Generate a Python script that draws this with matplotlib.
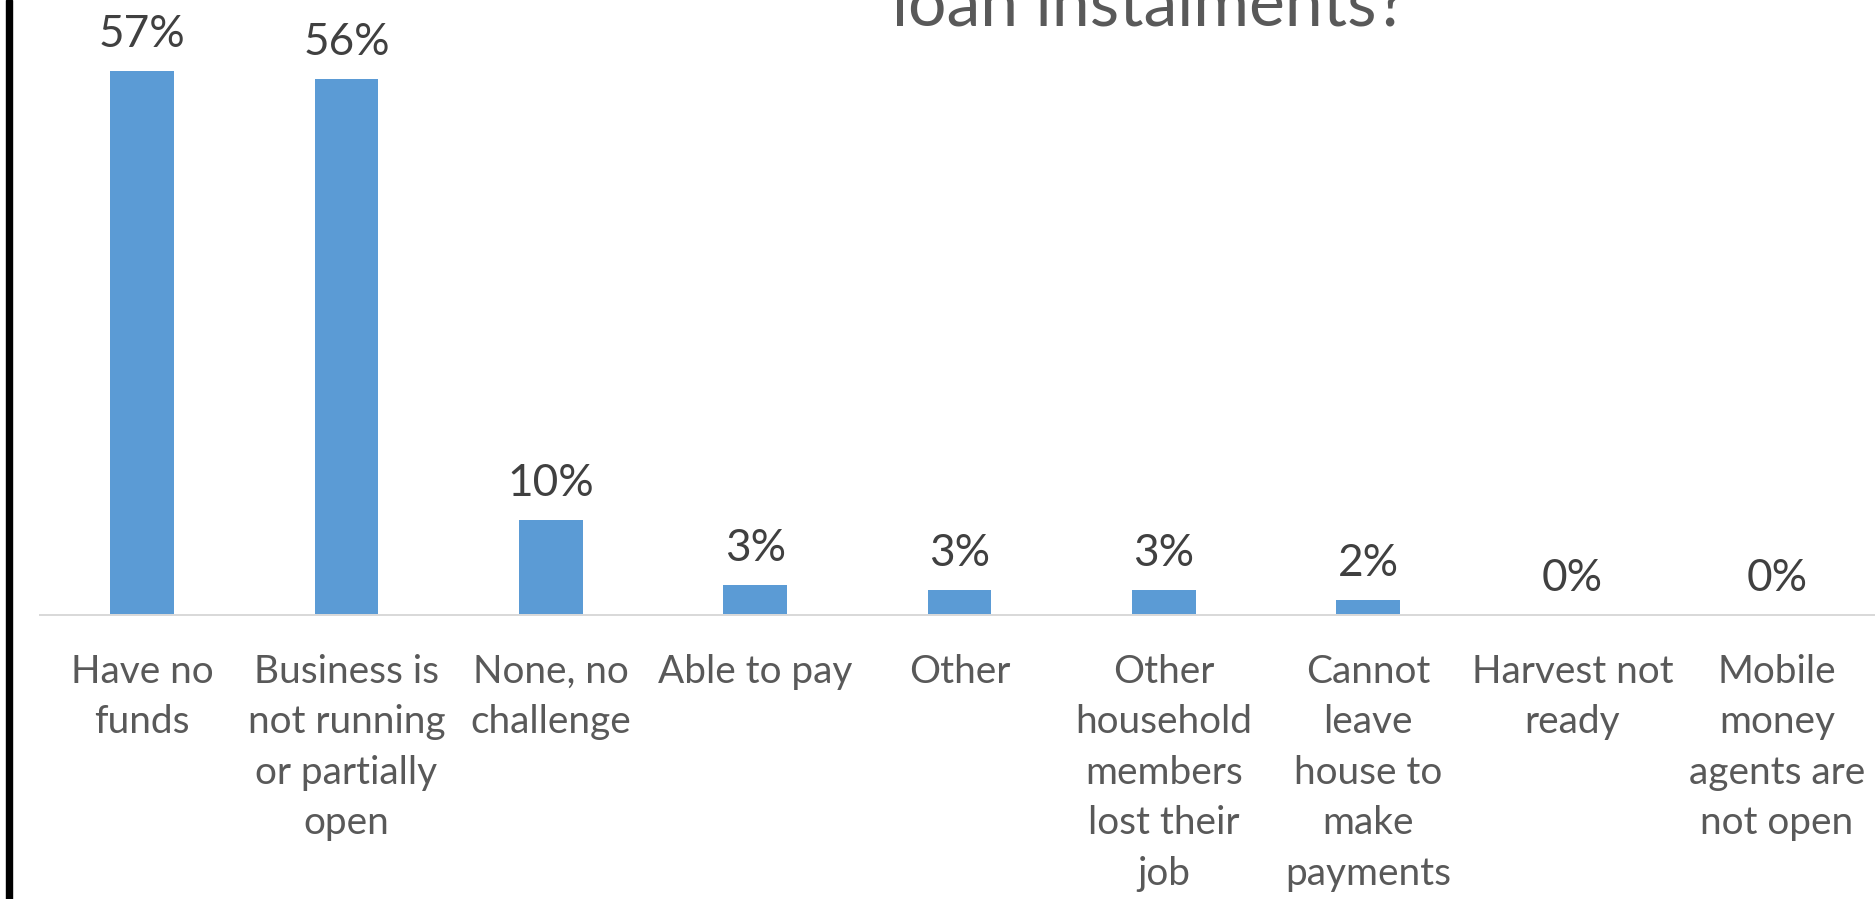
#!/usr/bin/env python3
# coding: utf-8

"""
Challenges faced in paying loan instalments - bar chart
"""

import numpy as np
import matplotlib.pyplot as plt
from matplotlib.patches import Rectangle
from matplotlib.font_manager import FontProperties

plt.rcParams['font.family'] = ['Lato', 'DejaVu Sans']

# categories (already wrapped the way they are printed under the bars)
categories = [
    'Have no\nfunds',
    'Business is\nnot running\nor partially\nopen',
    'None, no\nchallenge',
    'Able to pay',
    'Other',
    'Other\nhousehold\nmembers\nlost their\njob',
    'Cannot\nleave\nhouse to\nmake\npayments',
    'Harvest not\nready',
    'Mobile\nmoney\nagents are\nnot open',
]

# share of respondents, in percent
shares = [57.3, 56.4, 10.0, 3.2, 2.6, 2.6, 1.6, 0.0, 0.0]

title_text = 'loan instalments?'

W, H, DPI = 1875, 899, 100
BAR_COLOR = '#5B9BD5'
LABEL_COLOR = '#595959'
VALUE_COLOR = '#404040'


def px(v):
    """pixels -> points"""
    return v * 72 / DPI


def plot_chart():
    fig = plt.figure(figsize=(W / DPI, H / DPI), dpi=DPI)
    renderer = fig.canvas.get_renderer()

    # plot area: baseline at 615 px from the top
    ax = fig.add_axes([40 / W, 284 / H, 1839 / W, 615 / H])
    x = np.arange(len(categories))
    ax.bar(x, shares, width=0.313, color=BAR_COLOR, zorder=2)
    ax.set_xlim(-0.5, len(categories) - 0.5)
    ax.set_ylim(0, 615 / 9.5)

    # value labels above the bars
    value_fs = 31.8
    for xi, v in zip(x, shares):
        ax.annotate(f'{v:.0f}%', (xi, v), xytext=(0, px(24)), textcoords='offset points',
                    ha='center', va='baseline', fontsize=value_fs, color=VALUE_COLOR)

    # axes decoration: only a light grey baseline
    for side in ['top', 'left', 'right']:
        ax.spines[side].set_visible(False)
    ax.spines['bottom'].set_color('#D9D9D9')
    ax.spines['bottom'].set_linewidth(px(2))
    ax.set_yticks([])

    # category labels, first baseline ~68 px under the axis, 50.5 px between lines
    cat_fs = 27.9
    fp = FontProperties(family=['Lato', 'DejaVu Sans'], size=cat_fs)
    _, lp_h, lp_d = renderer.get_text_width_height_descent('lp', fp, ismath=False)
    ascent = lp_h - lp_d
    ax.set_xticks(x)
    ax.set_xticklabels(categories, fontsize=cat_fs, color=LABEL_COLOR,
                       linespacing=(50.5 - lp_d) / ascent)
    ax.tick_params(axis='x', length=0, pad=px(67.7 - ascent))

    # title, only its last line is inside the picture
    t = fig.text(892 / W, 1 - 26 / H, title_text, fontsize=40, color=LABEL_COLOR,
                 ha='left', va='baseline')
    tw = t.get_window_extent(renderer).width
    t.set_fontsize(40 * 515 / tw)

    # thick black frame line on the left
    fig.patches.append(Rectangle((6 / W, 0), 6 / W, 1, transform=fig.transFigure,
                                 color='black', zorder=5))

    plt.savefig('out.png', dpi=DPI)


if __name__ == '__main__':
    plot_chart()
